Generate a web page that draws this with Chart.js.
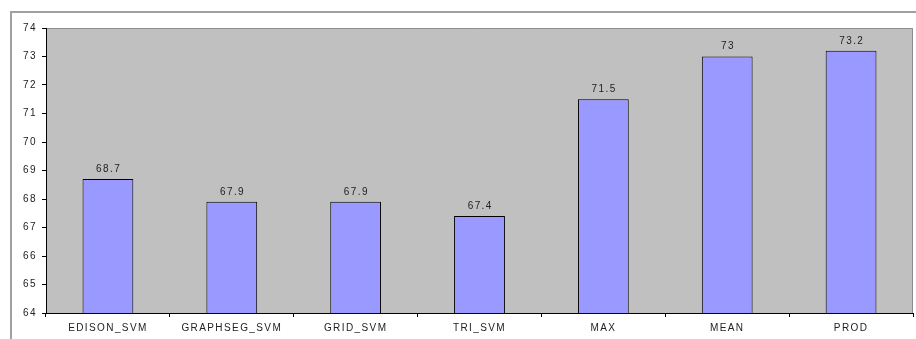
<!DOCTYPE html>
<html>
<head>
<meta charset="utf-8">
<script src="https://cdn.jsdelivr.net/npm/chart.js@4/dist/chart.umd.min.js"></script>
<style>
  html, body { margin: 0; padding: 0; background: #fff; }
  #wrap { width: 916px; height: 339px; position: relative; }
</style>
</head>
<body>
<div id="wrap"><canvas id="scoreChart"></canvas></div>
<script>
const categories = ["EDISON_SVM", "GRAPHSEG_SVM", "GRID_SVM", "TRI_SVM", "MAX", "MEAN", "PROD"];
const scores = [68.7, 67.9, 67.9, 67.4, 71.5, 73, 73.2];
const yTicks = [64, 65, 66, 67, 68, 69, 70, 71, 72, 73, 74];

// gray plot background, outer frame and value labels over the bars
const chartDecor = {
    id: "chartDecor",
    beforeDraw(chart) {
        const { ctx, chartArea: a } = chart;
        ctx.letterSpacing = "1.4px";
        ctx.save();
        ctx.fillStyle = "#c0c0c0";
        ctx.fillRect(a.left, a.top, a.right - a.left, a.bottom - a.top);
        ctx.strokeStyle = "#8c8c8c";
        ctx.lineWidth = 1;
        ctx.beginPath();
        ctx.moveTo(a.left, a.top + 0.5);
        ctx.lineTo(a.right - 0.5, a.top + 0.5);
        ctx.lineTo(a.right - 0.5, a.bottom);
        ctx.stroke();
        // outer frame
        ctx.strokeStyle = "#a0a0a0";
        ctx.lineWidth = 2;
        ctx.beginPath();
        ctx.moveTo(11, chart.height);
        ctx.lineTo(11, 12);
        ctx.lineTo(chart.width, 12);
        ctx.stroke();
        ctx.restore();
    },
    afterDatasetsDraw(chart) {
        const { ctx } = chart;
        const meta = chart.getDatasetMeta(0);
        ctx.save();
        ctx.font = "10px Arial, 'Liberation Sans', sans-serif";
        ctx.fillStyle = "#222";
        ctx.textAlign = "center";
        ctx.textBaseline = "bottom";
        meta.data.forEach((bar, i) => {
            ctx.fillText(String(scores[i]), bar.x + 0.7, bar.y - 5);
        });
        ctx.restore();
    }
};

const ctx = document.getElementById("scoreChart").getContext("2d");
new Chart(ctx, {
    type: "bar",
    data: {
        labels: categories,
        datasets: [{
            data: scores,
            backgroundColor: "#9999ff",
            borderColor: "#000",
            borderWidth: 1,
            borderSkipped: "bottom",
            barPercentage: 0.41,
            categoryPercentage: 1
        }]
    },
    options: {
        responsive: true,
        maintainAspectRatio: false,
        animation: false,
        layout: { padding: { left: 0, top: 28, right: 3, bottom: 0 } },
        plugins: {
            legend: { display: false },
            tooltip: { enabled: false }
        },
        scales: {
            x: {
                afterFit: s => { s.height = 26; },
                grid: { drawOnChartArea: false, drawTicks: true, tickLength: 4, color: "#000", offset: true },
                border: { display: true, color: "#000" },
                ticks: {
                    color: "#222",
                    padding: 5,
                    maxRotation: 0,
                    autoSkip: false,
                    font: { family: "Arial, 'Liberation Sans', sans-serif", size: 10 }
                }
            },
            y: {
                min: 64,
                max: 74,
                afterFit: s => { s.width = 46; },
                afterBuildTicks: s => { s.ticks = yTicks.map(v => ({ value: v })); },
                grid: { drawOnChartArea: false, drawTicks: true, tickLength: 4, color: "#000" },
                border: { display: true, color: "#000" },
                ticks: {
                    color: "#222",
                    padding: 5,
                    font: { family: "Arial, 'Liberation Sans', sans-serif", size: 10 }
                }
            }
        }
    },
    plugins: [chartDecor]
});
</script>
</body>
</html>
